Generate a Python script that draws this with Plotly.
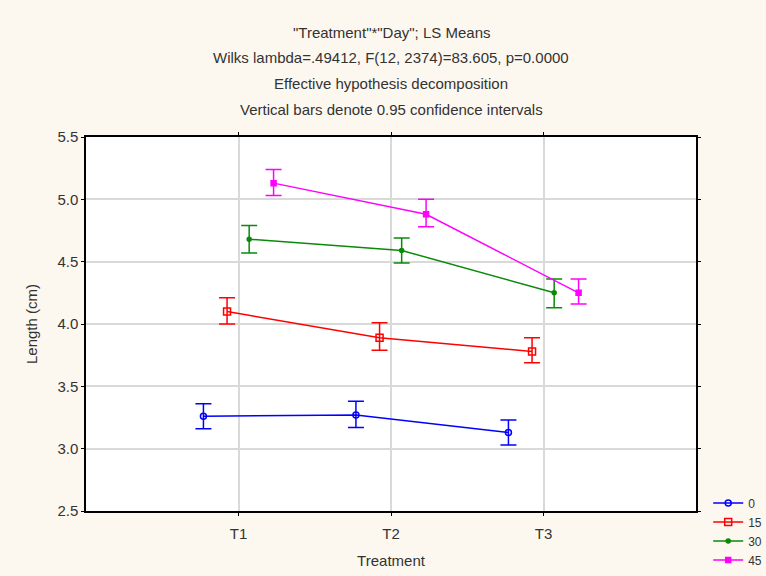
import plotly.graph_objects as go

categories = ["T1", "T2", "T3"]
cat_pos = [1, 2, 3]
series_names = ["0", "15", "30", "45"]
offsets = [-0.23, -0.075, 0.07, 0.23]
means = {
    "0": [3.26, 3.27, 3.13],
    "15": [4.10, 3.89, 3.78],
    "30": [4.68, 4.59, 4.25],
    "45": [5.13, 4.88, 4.25],
}
err_plus = {
    "0": [0.10, 0.11, 0.10],
    "15": [0.11, 0.12, 0.11],
    "30": [0.11, 0.10, 0.11],
    "45": [0.11, 0.12, 0.11],
}
err_minus = {
    "0": [0.10, 0.10, 0.10],
    "15": [0.10, 0.10, 0.09],
    "30": [0.11, 0.10, 0.12],
    "45": [0.10, 0.10, 0.09],
}
colors = {"0": "#0000ff", "15": "#ff0000", "30": "#0a8a0a", "45": "#ff00ff"}
symbols = {"0": "circle-open", "15": "square-open", "30": "circle", "45": "square"}
msizes = {"0": 6, "15": 7, "30": 4, "45": 5}

title_lines = [
    '"Treatment"*"Day"; LS Means',
    "Wilks lambda=.49412, F(12, 2374)=83.605, p=0.0000",
    "Effective hypothesis decomposition",
    "Vertical bars denote 0.95 confidence intervals",
]

fig = go.Figure()
for name, off in zip(series_names, offsets):
    fig.add_trace(go.Scatter(
        x=[p + off for p in cat_pos],
        y=means[name],
        name=name,
        mode="lines+markers",
        line=dict(color=colors[name], width=1.5),
        marker=dict(symbol=symbols[name], size=msizes[name], color=colors[name],
                    line=dict(color=colors[name], width=1.5)),
        error_y=dict(type="data", symmetric=False, array=err_plus[name],
                     arrayminus=err_minus[name], color=colors[name],
                     thickness=1.5, width=8),
    ))

font_family = "Liberation Sans, Arial, sans-serif"
FS = 15
L, R, T, B = 86, 70, 137, 65
H = 576
plot_h = H - T - B
title_px = [32, 57, 83, 110]
for txt, ypx in zip(title_lines, title_px):
    fig.add_annotation(text=txt, xref="paper", yref="paper", x=0.5,
                       y=(H - B - ypx) / plot_h, showarrow=False,
                       xanchor="center", yanchor="middle",
                       font=dict(family=font_family, size=FS, color="#333333"))

fig.update_layout(
    width=766, height=576,
    margin=dict(l=L, r=R, t=T, b=B, autoexpand=False),
    paper_bgcolor="#fdf8ef",
    plot_bgcolor="#ffffff",
    font=dict(family=font_family, size=FS, color="#333333"),
    showlegend=True,
    legend=dict(x=1.02, y=0.06, xanchor="left", yanchor="top",
                bgcolor="rgba(0,0,0,0)", tracegroupgap=0, itemwidth=30,
                font=dict(size=12)),
    xaxis=dict(
        range=[0, 4], tickvals=cat_pos, ticktext=categories,
        showgrid=True, gridcolor="#d9d9d9", gridwidth=1.5,
        showline=True, linecolor="#000000", linewidth=1.5, mirror="ticks",
        ticks="outside", ticklen=3, tickcolor="#000000",
        ticklabelstandoff=5,
        zeroline=False,
        title=dict(text="Treatment", standoff=15, font=dict(size=FS)),
    ),
    yaxis=dict(
        range=[2.5, 5.5], tickvals=[2.5, 3.0, 3.5, 4.0, 4.5, 5.0, 5.5],
        ticktext=["2.5", "3.0", "3.5", "4.0", "4.5", "5.0", "5.5"],
        showgrid=True, gridcolor="#d9d9d9", gridwidth=1.5,
        showline=True, linecolor="#000000", linewidth=1.5, mirror="ticks",
        ticks="outside", ticklen=3, tickcolor="#000000",
        zeroline=False,
        title=dict(text="Length (cm)", standoff=16, font=dict(size=FS)),
    ),
)

fig.write_html("out.html")
